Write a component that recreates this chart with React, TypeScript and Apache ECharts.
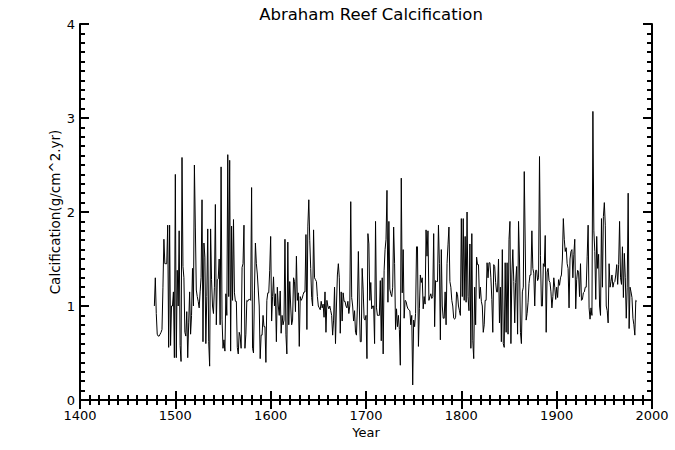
import React, { useEffect, useRef } from "react";
import * as echarts from "echarts";

const startYear = 1478;
// Annual calcification (g/cm^2.yr), 1478..1984
const values: number[] = [
  1.0, 1.3,
  0.92, 0.70, 0.68, 0.68, 0.70, 0.72, 0.75, 1.2, 1.71, 1.45,
  1.45, 1.45, 1.86, 0.56, 1.86, 0.58, 1.0, 1.0, 1.15, 0.45,
  2.40, 0.45, 1.38, 1.0, 1.80, 0.58, 0.41, 2.58, 1.42, 1.3,
  0.72, 0.68, 0.94, 0.45, 0.82, 1.15, 0.7, 0.9, 1.4, 1.0,
  2.5, 1.84, 1.17, 1.1, 1.05, 0.98, 1.15, 1.3, 2.13, 0.62,
  1.67, 1.52, 0.6, 1.1, 1.82, 0.62, 0.36, 1.82, 1.28, 1.0,
  0.92, 1.2, 2.08, 0.8, 1.28, 1.29, 1.5, 0.8, 2.48, 0.86,
  0.55, 0.64, 0.52, 1.13, 0.9, 2.61, 1.1, 2.55, 0.52, 1.85,
  1.06, 1.92, 1.14, 1.05, 1.05, 0.56, 0.49, 0.72, 0.68, 0.55,
  1.41, 1.45, 1.86, 0.55, 0.7, 1.06, 1.05, 1.07, 1.07, 1.06,
  2.26, 0.55, 0.5, 1.16, 1.67, 1.45, 1.34, 1.17, 1.0, 0.44,
  0.69, 0.69, 0.9, 0.78, 0.78, 0.4, 1.06, 1.14, 1.14, 1.38,
  1.74, 0.84, 1.1, 1.31, 1.0, 1.13, 0.62, 1.2, 1.0, 0.9,
  1.16, 0.71, 0.9, 0.8, 0.85, 1.71, 0.7, 0.49, 1.68, 0.8,
  1.26, 1.0, 0.8, 0.85, 1.3, 1.26, 0.94, 1.53, 1.06, 1.14,
  0.57, 1.1, 1.06, 1.08, 1.12, 1.15, 1.15, 1.76, 0.75, 1.85,
  2.13, 1.7, 1.4, 1.09, 1.0, 1.81, 1.3, 1.28, 1.26, 1.1,
  1.0, 0.98, 0.96, 1.05, 0.98, 1.02, 0.88, 1.15, 0.72, 1.06,
  1.0, 0.97, 1.0, 0.95, 0.9, 0.69, 0.85, 1.2, 0.6, 1.0,
  1.33, 1.45, 1.3, 0.71, 1.15, 0.84, 1.14, 1.05, 1.05, 1.0,
  0.98, 1.05, 0.92, 1.0, 2.11, 1.09, 1.0, 0.84, 0.95, 0.72,
  0.69, 1.0, 1.58, 1.0, 0.62, 0.62, 1.4, 1.18, 0.87, 0.85,
  0.9, 0.44, 1.77, 1.66, 1.06, 1.25, 0.97, 1.0, 1.0, 0.6,
  1.9, 0.98, 0.9, 0.9, 0.9, 1.27, 0.63, 1.3, 0.49, 1.38,
  1.6, 1.71, 2.23, 1.04, 1.9, 1.18, 1.13, 1.1, 1.2, 1.84,
  1.45, 0.75, 0.97, 0.78, 0.9, 0.75, 0.37, 2.36, 1.14, 1.6,
  0.87, 1.06, 1.05, 1.0, 0.97, 0.96, 0.95, 0.8, 0.9, 0.16,
  0.85, 0.78, 0.92, 1.63, 1.63, 0.57, 0.97, 1.33, 1.25, 1.3,
  0.97, 1.1, 1.02, 1.81, 1.53, 1.8, 1.06, 1.1, 1.13, 1.08,
  1.1, 1.77, 0.78, 1.27, 1.26, 1.26, 1.86, 1.45, 0.64, 1.6,
  1.0, 0.87, 0.87, 1.15, 0.8, 1.45, 1.65, 1.84, 1.26, 1.2,
  1.06, 1.0, 0.87, 0.86, 0.88, 1.15, 1.12, 1.0, 0.95, 0.9,
  1.93, 1.1, 1.93, 1.06, 1.74, 1.04, 2.0, 1.1, 0.95, 1.66,
  0.55, 1.77, 0.63, 0.44, 1.2, 0.8, 1.52, 1.44, 1.44, 1.08,
  1.2, 1.05, 1.0, 0.72, 0.8, 1.06, 1.06, 1.46, 1.3, 1.46,
  1.46, 1.3, 1.07, 0.72, 1.44, 1.42, 1.25, 1.15, 1.15, 1.5,
  0.82, 1.2, 0.62, 1.6, 0.6, 0.56, 1.46, 0.72, 1.46, 0.7,
  1.71, 1.9, 0.6, 1.33, 1.6, 1.26, 0.82, 1.25, 1.42, 0.7,
  1.9, 1.5, 0.72, 0.6, 1.15, 1.2, 2.43, 1.67, 0.85, 0.92,
  1.04, 1.24, 1.33, 1.33, 1.8, 1.4, 1.35, 1.0, 1.38, 1.38,
  1.27, 1.3, 2.59, 1.54, 1.0, 1.0, 1.45, 1.42, 1.75, 0.72,
  1.36, 1.4, 1.27, 1.25, 1.15, 0.98, 1.1, 1.3, 1.2, 1.07,
  1.2, 1.09, 1.28, 1.22, 1.3, 1.33, 1.5, 1.93, 1.71, 1.58,
  1.62, 1.45, 1.4, 0.98, 1.5, 1.58, 1.6, 1.3, 1.55, 1.71,
  0.97, 1.28, 1.38, 1.36, 1.1, 1.45, 1.06, 1.07, 1.14, 1.15,
  1.2, 1.2, 1.53, 1.86, 0.98, 0.86, 0.98, 0.9, 3.07, 1.8,
  1.58, 1.07, 1.74, 1.4, 1.55, 1.0, 0.9, 1.93, 1.2, 1.95,
  2.1, 1.86, 1.0, 0.95, 0.82, 1.45, 1.2, 1.26, 1.33, 1.2,
  1.25, 1.26, 1.33, 1.44, 1.23, 1.44, 1.9, 1.3, 1.23, 1.63,
  1.09, 1.56, 1.3, 0.87, 1.2, 2.2, 0.76, 1.2, 1.15, 1.09,
  0.87, 0.8, 0.69, 1.06, 1.05,
];

const titleText = "Abraham Reef Calcification";
const xName = "Year";
const yName = "Calcification(g/cm^2.yr)";
const xMin = 1400, xMax = 2000, xStep = 100;
const yMin = 0, yMax = 4, yStep = 1;

const FONT = "DejaVu Sans";

export default function App() {
  const ref = useRef<HTMLDivElement>(null);
  useEffect(() => {
    if (!ref.current) return;
    const chart = echarts.init(ref.current, null, { renderer: "svg" });
    const data = values.map((v, i) => [startYear + i, v]);
    const axisLine = { show: true, lineStyle: { color: "#000", width: 2 } };
    const tick = { show: true, inside: true, length: 9, lineStyle: { color: "#000", width: 2 } };
    const minor = { show: true, splitNumber: 10, length: 5, lineStyle: { color: "#000", width: 2 } };
    const label = { color: "#000", fontFamily: FONT, fontSize: 13 };
    chart.setOption({
      animation: false,
      backgroundColor: "#fff",
      title: {
        text: titleText,
        left: 366,
        top: 1,
        textAlign: "center",
        textStyle: { color: "#000", fontFamily: FONT, fontSize: 16.5, fontWeight: "normal" },
      },
      grid: { left: 80, right: 23, top: 24, bottom: 50 },
      xAxis: [
        {
          type: "value", min: xMin, max: xMax, interval: xStep, position: "bottom",
          name: xName, nameLocation: "middle", nameGap: 26, nameMoveOverlap: false,
          nameTextStyle: { color: "#000", fontFamily: FONT, fontSize: 13 },
          axisLine, axisTick: tick, minorTick: minor, splitLine: { show: false },
          axisLabel: { ...label, margin: 9, formatter: (v: number) => String(v) },
        },
        {
          type: "value", min: xMin, max: xMax, interval: xStep, position: "top",
          axisLine, axisTick: tick, minorTick: minor, splitLine: { show: false },
          axisLabel: { show: false },
        },
      ],
      yAxis: [
        {
          type: "value", min: yMin, max: yMax, interval: yStep, position: "left",
          name: yName, nameLocation: "middle", nameGap: 18, nameMoveOverlap: false,
          nameTextStyle: { color: "#000", fontFamily: FONT, fontSize: 13.5 },
          axisLine, axisTick: tick, minorTick: minor, splitLine: { show: false },
          axisLabel: { ...label, margin: 5, formatter: (v: number) => String(v) },
        },
        {
          type: "value", min: yMin, max: yMax, interval: yStep, position: "right",
          axisLine, axisTick: tick, minorTick: minor, splitLine: { show: false },
          axisLabel: { show: false },
        },
      ],
      series: [
        {
          type: "line",
          data,
          showSymbol: false,
          symbol: "none",
          lineStyle: { color: "#000", width: 1 },
          xAxisIndex: 0,
          yAxisIndex: 0,
        },
      ],
    });
    return () => chart.dispose();
  }, []);
  return (
    <div
      ref={ref}
      style={{ position: "fixed", left: 0, top: 0, width: 675, height: 450, background: "#fff" }}
    />
  );
}
